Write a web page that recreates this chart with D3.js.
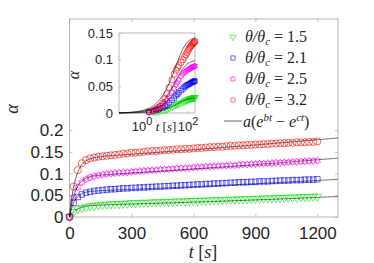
<!doctype html>
<html lang="en">
<head>
<meta charset="UTF-8">
<title>alpha vs t</title>
<script src="https://cdn.jsdelivr.net/npm/d3@7"></script>
<style>
  body { margin: 0; background: #fff; }
  text { font-family: "Liberation Sans", Arial, sans-serif; fill: #262626; }
  .tex { font-family: "Liberation Serif", "Times New Roman", serif; }
  .axis path.domain { display: none; }
  .axis line { stroke: #999; stroke-width: 0.6; }
</style>
</head>
<body>
<svg id="chart" width="374" height="263"></svg>
<script>
// sampling times of the main data (s)
const times = d3.range(0, 1201, 20);

// alpha for theta/theta_c = 1.5, 2.1, 2.5, 3.2
const green = [0, 0.012, 0.018, 0.021, 0.023, 0.025, 0.026, 0.027, 0.028, 0.029, 0.029, 0.030, 0.030, 0.031, 0.031, 0.032,
  0.032, 0.033, 0.033, 0.033, 0.034, 0.034, 0.034, 0.035, 0.035, 0.035, 0.036, 0.036, 0.036, 0.037, 0.037,
  0.037, 0.038, 0.038, 0.038, 0.039, 0.039, 0.039, 0.040, 0.040, 0.040, 0.041, 0.041, 0.041, 0.042, 0.042,
  0.042, 0.043, 0.043, 0.043, 0.044, 0.044, 0.044, 0.045, 0.045, 0.045, 0.046, 0.046, 0.046, 0.047, 0.047]
const blue = [0, 0.033, 0.046, 0.052, 0.056, 0.058, 0.060, 0.061, 0.062, 0.063, 0.064, 0.064, 0.065, 0.066, 0.066, 0.067,
  0.067, 0.068, 0.068, 0.069, 0.069, 0.070, 0.070, 0.071, 0.071, 0.072, 0.072, 0.073, 0.073, 0.074, 0.074,
  0.075, 0.075, 0.076, 0.076, 0.077, 0.077, 0.078, 0.078, 0.079, 0.079, 0.080, 0.080, 0.080, 0.081, 0.081,
  0.082, 0.082, 0.082, 0.083, 0.083, 0.084, 0.084, 0.084, 0.085, 0.085, 0.085, 0.086, 0.086, 0.086, 0.087]
const magenta = [0, 0.045, 0.068, 0.080, 0.087, 0.091, 0.094, 0.096, 0.098, 0.099, 0.100, 0.101, 0.102, 0.103, 0.103, 0.104,
  0.105, 0.106, 0.106, 0.107, 0.108, 0.108, 0.109, 0.110, 0.110, 0.111, 0.112, 0.112, 0.113, 0.113, 0.114,
  0.115, 0.115, 0.116, 0.116, 0.117, 0.117, 0.118, 0.118, 0.119, 0.119, 0.120, 0.121, 0.121, 0.122, 0.122,
  0.123, 0.123, 0.124, 0.124, 0.125, 0.125, 0.126, 0.126, 0.127, 0.127, 0.128, 0.128, 0.129, 0.129, 0.130]
const red = [0, 0.070, 0.108, 0.124, 0.131, 0.135, 0.137, 0.139, 0.140, 0.141, 0.142, 0.143, 0.144, 0.146, 0.146, 0.148,
  0.148, 0.149, 0.150, 0.151, 0.152, 0.152, 0.153, 0.154, 0.154, 0.155, 0.156, 0.156, 0.157, 0.157, 0.158,
  0.159, 0.159, 0.160, 0.161, 0.161, 0.162, 0.162, 0.163, 0.164, 0.164, 0.165, 0.165, 0.166, 0.166, 0.167,
  0.167, 0.168, 0.168, 0.169, 0.169, 0.170, 0.170, 0.171, 0.171, 0.172, 0.172, 0.172, 0.173, 0.173, 0.174]

// inset (log time axis)
const insetTimes = [2, 3, 4, 5, 6, 8, 10, 12, 15, 20, 25, 30, 35, 40, 50, 60, 70, 80, 90, 100, 110, 120, 130, 140, 150, 160, 170, 180, 190, 200]
const insetGreen = [0.001, 0.002, 0.002, 0.003, 0.004, 0.005, 0.006, 0.007, 0.009, 0.011, 0.013, 0.015, 0.016, 0.018, 0.019,
  0.021, 0.022, 0.023, 0.024, 0.025, 0.026, 0.026, 0.027, 0.027, 0.028, 0.028, 0.028, 0.029, 0.029, 0.029]
const insetBlue = [0.002, 0.003, 0.005, 0.006, 0.008, 0.010, 0.013, 0.015, 0.019, 0.024, 0.028, 0.032, 0.035, 0.038, 0.042,
  0.045, 0.048, 0.050, 0.052, 0.053, 0.054, 0.055, 0.056, 0.057, 0.058, 0.058, 0.059, 0.059, 0.060, 0.060]
const insetMagenta = [0.002, 0.004, 0.006, 0.008, 0.010, 0.015, 0.019, 0.023, 0.030, 0.039, 0.046, 0.052, 0.057, 0.062, 0.069,
  0.073, 0.076, 0.078, 0.080, 0.081, 0.082, 0.083, 0.084, 0.085, 0.086, 0.086, 0.087, 0.087, 0.088, 0.088]
const insetRed = [0.002, 0.004, 0.007, 0.010, 0.013, 0.019, 0.027, 0.036, 0.048, 0.062, 0.073, 0.080, 0.085, 0.089, 0.095,
  0.100, 0.105, 0.109, 0.113, 0.117, 0.120, 0.123, 0.125, 0.127, 0.129, 0.130, 0.131, 0.132, 0.133, 0.134]

// fit a(e^{bt} - e^{ct}) parameters, order green, blue, magenta, red
const fitA = [0.026, 0.058, 0.093, 0.135]
const fitB = [4.6e-4, 3.1e-4, 2.9e-4, 2.3e-4]
const fitC = [-0.03, -0.04, -0.035, -0.035]

const ratios = ['1.5', '2.1', '2.5', '3.2']
const xTicks = [0, 300, 600, 900, 1200]
const yTicks = [0, 0.05, 0.1, 0.15, 0.2]
const insetYTicks = [0, 0.05, 0.1, 0.15]
const insetXTicks = [1, 100]

const colors = ['#00e600', '#0000ff', '#ff00ff', '#ff0000']

const hexagram = {
  draw(ctx, size) {
    const R = Math.sqrt(size) / 1.5, r = R / Math.sqrt(3)
    for (let i = 0; i < 12; i++) {
      const a = Math.PI / 2 + i * Math.PI / 6
      const rad = i % 2 ? r : R
      const px = rad * Math.cos(a), py = -rad * Math.sin(a)
      if (i) ctx.lineTo(px, py); else ctx.moveTo(px, py)
    }
    ctx.closePath()
  }
}
const shapes = [d3.symbolTriangle, d3.symbolSquare, hexagram, d3.symbolCircle]
const rot = [180, 0, 0, 0]

const series = [
  { main: green, inset: insetGreen },
  { main: blue, inset: insetBlue },
  { main: magenta, inset: insetMagenta },
  { main: red, inset: insetRed }
]

function fit(i, t) {
  return fitA[i] * (Math.exp(fitB[i] * t) - Math.exp(fitC[i] * t))
}

const svg = d3.select('#chart')

// ---- main axes
const L = 69.5, R = 338, T = 19, B = 217
const x = d3.scaleLinear().domain([0, 1300]).range([L, R])
const y = d3.scaleLinear().domain([0, 0.456]).range([B, T])

svg.append('rect').attr('x', L).attr('y', T).attr('width', R - L).attr('height', B - T)
  .attr('fill', 'none').attr('stroke', '#999').attr('stroke-width', 0.7)

const fmt = d => d === 0 ? '0' : d3.format('~g')(d)

svg.append('g').attr('class', 'axis').attr('transform', `translate(0,${B})`)
  .call(d3.axisBottom(x).tickValues(xTicks).tickSize(-3).tickPadding(10).tickFormat(fmt))
  .selectAll('text').attr('font-size', 17).attr('font-family', null)
svg.append('g').attr('class', 'axis').attr('transform', `translate(0,${T})`)
  .call(d3.axisTop(x).tickValues(xTicks).tickSize(-3).tickFormat(''))
svg.append('g').attr('class', 'axis').attr('transform', `translate(${L},0)`)
  .call(d3.axisLeft(y).tickValues(yTicks).tickSize(-3).tickPadding(6).tickFormat(fmt))
  .selectAll('text').attr('font-size', 17).attr('font-family', null)
svg.append('g').attr('class', 'axis').attr('transform', `translate(${R},0)`)
  .call(d3.axisRight(y).tickValues(yTicks).tickSize(-3).tickFormat(''))

// markers
series.forEach((s, i) => {
  const sym = d3.symbol().type(shapes[i]).size(i === 3 ? 40 : 30)
  svg.append('g').selectAll('path').data(s.main).enter().append('path')
    .attr('d', sym)
    .attr('transform', (d, j) => `translate(${x(times[j])},${y(d)}) rotate(${rot[i]})`)
    .attr('fill', 'none').attr('stroke', colors[i]).attr('stroke-width', 0.6)
})

// fit lines
const fitT = d3.range(0, 1301, 2)
series.forEach((s, i) => {
  svg.append('path').datum(fitT)
    .attr('d', d3.line().x(t => x(t)).y(t => y(fit(i, t))))
    .attr('fill', 'none').attr('stroke', '#000').attr('stroke-width', 0.6)
})

// axis labels
svg.append('text').attr('class', 'tex').attr('transform', 'translate(18,109) rotate(-90)')
  .attr('text-anchor', 'middle').attr('font-size', 18).attr('font-style', 'italic').text('α')
const xl = svg.append('text').attr('class', 'tex').attr('x', 203).attr('y', 258)
  .attr('text-anchor', 'middle').attr('font-size', 18)
xl.append('tspan').attr('font-style', 'italic').text('t')
xl.append('tspan').text(' [')
xl.append('tspan').attr('font-style', 'italic').text('s')
xl.append('tspan').text(']')

// ---- inset
const iL = 119, iR = 195, iT = 33, iB = 113
const ix = d3.scaleLog().domain([0.1, 200]).range([iL, iR])
const iy = d3.scaleLinear().domain([0, 0.15]).range([iB, iT])

svg.append('rect').attr('x', iL).attr('y', iT).attr('width', iR - iL).attr('height', iB - iT)
  .attr('fill', '#fff').attr('stroke', '#999').attr('stroke-width', 0.7)

svg.append('g').attr('class', 'axis').attr('transform', `translate(${iL},0)`)
  .call(d3.axisLeft(iy).tickValues(insetYTicks).tickSize(-2).tickPadding(6).tickFormat(fmt))
  .selectAll('text').attr('font-size', 13).attr('font-family', null)
svg.append('g').attr('class', 'axis').attr('transform', `translate(0,${iB})`)
  .call(d3.axisBottom(ix).tickValues(insetXTicks).tickSize(-2).tickFormat(''))

insetXTicks.forEach(v => {
  const tx = svg.append('text').attr('x', ix(v)).attr('y', 131).attr('text-anchor', 'middle').attr('font-size', 13)
  tx.append('tspan').text('10')
  tx.append('tspan').attr('dy', -6).attr('font-size', 11).text(Math.round(Math.log10(v)))
})

const ig = svg.append('g')
series.forEach((s, i) => {
  const sym = d3.symbol().type(shapes[i]).size(i === 3 ? 30 : 20)
  ig.append('g').selectAll('path').data(s.inset).enter().append('path')
    .attr('d', sym)
    .attr('transform', (d, j) => `translate(${ix(insetTimes[j])},${iy(d)}) rotate(${rot[i]})`)
    .attr('fill', 'none').attr('stroke', colors[i]).attr('stroke-width', 0.6)
})
const insetFitT = d3.range(-1, 2.302, 0.02).map(e => Math.pow(10, e))
series.forEach((s, i) => {
  ig.append('path').datum(insetFitT)
    .attr('d', d3.line().x(t => ix(t)).y(t => iy(fit(i, t))))
    .attr('fill', 'none').attr('stroke', '#000').attr('stroke-width', 0.6)
})

svg.append('text').attr('class', 'tex').attr('transform', 'translate(79,75) rotate(-90)')
  .attr('text-anchor', 'middle').attr('font-size', 16).attr('font-style', 'italic').text('α')
const ixl = svg.append('text').attr('class', 'tex').attr('x', 166).attr('y', 131)
  .attr('text-anchor', 'middle').attr('font-size', 13)
ixl.append('tspan').attr('font-style', 'italic').text('t')
ixl.append('tspan').text(' [')
ixl.append('tspan').attr('font-style', 'italic').text('s')
ixl.append('tspan').text(']')

// ---- legend
const legY = [37, 58, 79, 100]
series.forEach((s, i) => {
  svg.append('path').attr('d', d3.symbol().type(shapes[i]).size(18))
    .attr('transform', `translate(233,${legY[i]}) rotate(${rot[i]})`)
    .attr('fill', 'none').attr('stroke', colors[i]).attr('stroke-width', 0.6)
  const t = svg.append('text').attr('class', 'tex').attr('x', 245).attr('y', legY[i] + 5).attr('font-size', 16)
  t.append('tspan').attr('font-style', 'italic').text('θ/θ')
  t.append('tspan').attr('font-style', 'italic').attr('font-size', 11).attr('dy', 3).text('c')
  t.append('tspan').attr('dy', -3).text(' = ' + ratios[i])
})
svg.append('line').attr('x1', 224).attr('x2', 242).attr('y1', 121).attr('y2', 121)
  .attr('stroke', '#000').attr('stroke-width', 0.6)
const ft = svg.append('text').attr('class', 'tex').attr('x', 243).attr('y', 127).attr('font-size', 16)
ft.append('tspan').attr('font-style', 'italic').text('a')
ft.append('tspan').text('(')
ft.append('tspan').attr('font-style', 'italic').text('e')
ft.append('tspan').attr('font-style', 'italic').attr('font-size', 11).attr('dy', -6).text('bt')
ft.append('tspan').attr('dy', 6).text(' − ')
ft.append('tspan').attr('font-style', 'italic').text('e')
ft.append('tspan').attr('font-style', 'italic').attr('font-size', 11).attr('dy', -6).text('ct')
ft.append('tspan').attr('dy', 6).text(')')
</script>
</body>
</html>
